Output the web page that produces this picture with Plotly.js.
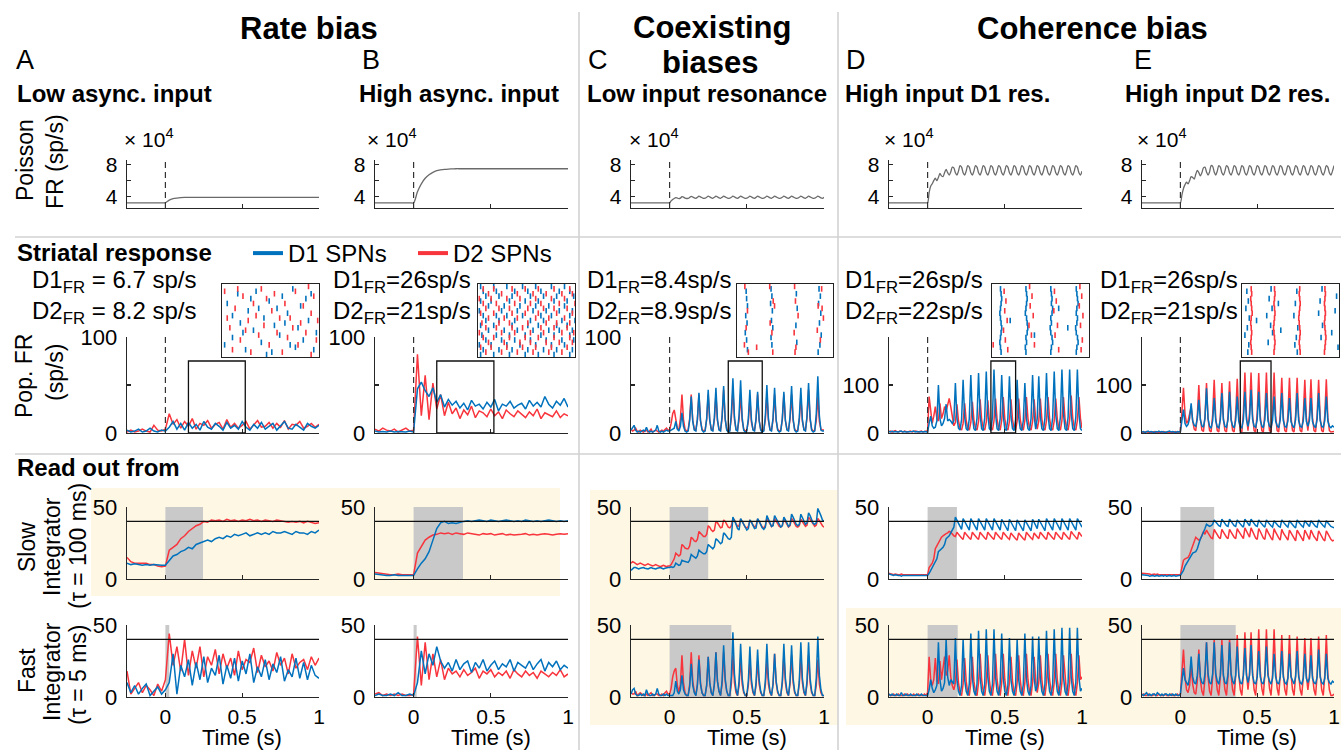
<!DOCTYPE html>
<html><head><meta charset="utf-8">
<script src="https://cdn.plot.ly/plotly-3.0.1.min.js"></script>
<style>html,body{margin:0;padding:0;background:#fff;}#chart{width:1341px;height:750px;}</style>
</head><body><div id="chart"></div>
<script>
// ================= DATA =================
const T_START = -0.25;          // s, first sample of every trace
const DT_AB = 0.025;            // s, sampling of columns A and B
const DT_CDE = 0.01;            // s, sampling of columns C, D and E

// ---- Poisson input firing rate (x 10^4 sp/s) ----
const poissonA = [3.2,3.2,3.2,3.2,3.2,3.2,3.2,3.2,3.2,3.2,3.2, 3.55,3.72,3.8,3.85,3.88,3.89,
  3.9,3.9,3.9,3.9,3.9,3.9,3.9,3.9,3.9,3.9, 3.9,3.9,3.9,3.9,3.9,3.9,3.9,3.9,3.9,3.9, 3.9,3.9,3.9,3.9,3.9,3.9,3.9,3.9,3.9,3.9, 3.9,3.9,3.9,3.9];
const poissonB = [3.2,3.2,3.2,3.2,3.2,3.2,3.2,3.2,3.2,3.2,3.2, 4.6,5.6,6.3,6.75,7.05,7.25,7.35,7.42,7.46,7.48,
  7.5,7.5,7.5,7.5,7.5,7.5,7.5,7.5,7.5,7.5, 7.5,7.5,7.5,7.5,7.5,7.5,7.5,7.5,7.5,7.5, 7.5,7.5,7.5,7.5,7.5,7.5,7.5,7.5,7.5,7.5];
const poissonC = [3.2,3.2,3.2,3.2,3.2,3.2,3.2,3.2,3.2,3.2,3.2,3.2,3.2,3.2,3.2,3.2,3.2,3.2,3.2,3.2,3.2,3.2,3.2,3.2,3.2,3.2,
  3.45,3.62,3.75,3.85,3.8,3.74,3.8,3.97,3.92,3.8, 3.75,3.76,3.88,4.02,3.94,3.82,3.77,3.9,4.04,3.95,
  3.84,3.77,3.78,3.9,4.04,3.95,3.82,3.77,3.9,4.04, 3.95,3.82,3.77,3.9,4.04,3.95,3.84,3.77,3.78,3.9,
  4.04,3.95,3.82,3.77,3.9,4.04,3.95,3.84,3.77,3.78, 3.9,4.04,3.95,3.82,3.77,3.9,4.04,3.95,3.84,3.77,
  3.78,3.9,4.04,3.95,3.82,3.77,3.9,4.04,3.95,3.84, 3.77,3.78,3.9,4.04,3.95,3.82,3.77,3.9,4.04,3.95,
  3.84,3.77,3.78,3.9,4.04,3.95,3.82,3.77,3.9,4.04, 3.95,3.84,3.77,3.78,3.9,4.04,3.95,3.82,3.77,3.9];
const poissonD = [3.2,3.2,3.2,3.2,3.2,3.2,3.2,3.2,3.2,3.2,3.2,3.2,3.2,3.2,3.2,3.2,3.2,3.2,3.2,3.2,3.2,3.2,3.2,3.2,3.2,3.2,
  4.5,5.3,5.6,6.0,6.3,6.0,6.4,6.9,6.6,6.5, 7.0,7.4,7.0,6.7,7.1,7.7,7.6,7.0,6.7,7.2, 7.9,7.7,7.0,6.7,
  7.2,7.9,7.7,7.0,6.7, 7.2,7.9,7.7,7.0,6.7, 7.2,7.9,7.7,7.0,6.7, 7.2,7.9,7.7,7.0,6.7, 7.2,7.9,7.7,7.0,6.7,
  7.2,7.9,7.7,7.0,6.7, 7.2,7.9,7.7,7.0,6.7, 7.2,7.9,7.7,7.0,6.7, 7.2,7.9,7.7,7.0,6.7, 7.2,7.9,7.7,7.0,6.7,
  7.2,7.9,7.7,7.0,6.7, 7.2,7.9,7.7,7.0,6.7, 7.2,7.9,7.7,7.0,6.7, 7.2,7.9,7.7,7.0,6.7, 7.2,7.9,7.7,7.0,6.7, 7.2];
const poissonE = [3.2,3.2,3.2,3.2,3.2,3.2,3.2,3.2,3.2,3.2,3.2,3.2,3.2,3.2,3.2,3.2,3.2,3.2,3.2,3.2,3.2,3.2,3.2,3.2,3.2,3.2,
  4.2,5.0,5.5,5.8,5.6,6.0,6.5,6.4,6.2,6.8, 7.3,7.0,6.6,7.0,7.6,7.7,7.1,6.7,7.1,7.9, 7.8,7.1,6.7,7.2,
  7.9,7.7,7.0,6.7,7.2, 7.9,7.7,7.0,6.7,7.2, 7.9,7.7,7.0,6.7,7.2, 7.9,7.7,7.0,6.7,7.2, 7.9,7.7,7.0,6.7,7.2,
  7.9,7.7,7.0,6.7,7.2, 7.9,7.7,7.0,6.7,7.2, 7.9,7.7,7.0,6.7,7.2, 7.9,7.7,7.0,6.7,7.2, 7.9,7.7,7.0,6.7,7.2,
  7.9,7.7,7.0,6.7,7.2, 7.9,7.7,7.0,6.7,7.2, 7.9,7.7,7.0,6.7,7.2, 7.9,7.7,7.0,6.7,7.2, 7.9,7.7,7.0,6.7,7.2, 7.9];

// ---- Population firing rate (sp/s) ----
const popA_D1 = [3,1,2,4,1,2,5,2,1,3,2, 6,12,4,10,3,11,5,9,3,12, 6,4,10,7,3,11,5,8,4,12, 6,3,9,5,11,4,7,10,3,8, 12,5,4,9,6,3,10,7,5,8];
const popA_D2 = [1,3,1,2,4,2,1,8,3,2,4, 20,9,14,5,12,7,15,4,10,8, 13,5,9,11,4,14,6,10,5,8, 12,4,9,13,6,7,11,5,10,6, 13,4,9,8,12,5,7,10,6,9];
const popB_D1 = [2,1,1.5,1,2,1,1.5,1,1,2,1, 46,53,44,38,47,32,40,27,35,29, 33,26,31,24,34,28,30,25,32,27, 35,23,30,28,33,26,29,31,25,34, 28,32,27,38,30,26,33,29,36,27];
const popB_D2 = [4,2,5,3,2,4,1,3,5,2,3, 82,18,60,14,52,25,40,18,32,20, 26,15,24,19,28,16,23,21,17,25, 18,22,15,24,20,17,23,19,16,22, 18,25,15,21,19,17,23,16,20,18];
const popC_D1 = [3,5,8,3,1,2,1,2,3,2,6,2,1,2,1,2,3,8,2,1,2,1,2,3,2,
  2,3,4,5,12,4,2,7,21,7, 2,1,2,13,38,12,3,2,14,42, 13,3,1,2,15,45,14,3,2,16, 47,14,3,2,17,49,15,3,1,2,
  20,57,17,3,2,19,55,16,3,1, 2,15,45,14,3,2,15,43,13,3, 1,2,17,50,15,3,2,16,47,14, 3,1,2,15,43,13,3,2,17,49,
  15,3,1,2,16,47,14,3,2,18, 52,16,3,1,2,20,59,18,3,2,2];
const popC_D2 = [4,2,3,5,2,1,3,2,1,2,3,1,2,4,1,2,3,2,1,2,3,2,4,5,3,
  3,10,20,24,15,5,3,15,40,14, 4,2,3,15,40,13,4,3,14,40, 13,4,2,3,14,40,13,4,3,14, 40,13,4,3,16,45,14,4,2,3,
  16,45,14,4,3,14,40,13,4,2, 3,12,35,11,4,3,14,40,13,4, 2,3,14,40,13,4,3,14,40,13, 4,2,3,14,40,13,4,3,14,40,
  13,4,2,3,13,38,12,4,3,16, 45,14,4,2,3,13,38,12,4,3,3];
const popD_D1 = [3,2,4,2,3,2,2,3,4,2,3,2,2,3,2,3,4,2,3,2,2,3,2,3,2,
  2,20,35,15,10,12,25,100,30,15, 20,30,60,25,28,25,20,26,104,31, 10,6,28,111,33,9,5,30,121,36, 9,5,31,125,38,9,5,32,128,38,
  9,5,33,132,40,9,5,30,121,36, 9,5,30,118,35,9,5,28,111,33, 9,5,26,104,31,9,5,30,121,36, 8,30,118,35,9,5,31,125,38,9,
  5,32,128,38,9,5,33,132,40,9, 5,33,132,40,9,5,33,132,40,9,5];
const popD_D2 = [3,4,2,3,5,3,2,4,3,2,4,3,2,3,4,2,3,4,3,2,3,4,2,3,3,
  5,76,40,20,35,55,30,25,62,30, 40,55,45,60,72,55,30,15,22,60, 25,10,6,20,62,26,10,6,22,65, 27,10,6,24,70,28,10,6,23,68,
  27,10,6,25,72,29,10,6,26,75, 30,10,6,24,70,28,10,6,25,72, 29,10,6,26,75,30,10,6,24,70, 28,8,25,72,29,10,6,26,75,30,
  10,6,25,72,29,10,6,26,75,30, 10,6,27,78,31,10,6,26,75,30,10];
const popE_D1 = [2,3,1,2,4,2,3,2,1,3,2,4,2,3,2,1,2,3,4,2,3,2,1,3,2,
  3,25,49,20,14,18,30,62,25,16, 14,30,69,28,15,12,30,93,30,14, 10,25,73,25,13,11,28,83,27,14, 12,28,86,27,15,11,26,76,25,13,
  11,28,86,28,14,30,90,28,14,12, 28,86,27,15,11,28,83,26,14,12, 26,76,25,15,11,28,83,26,14,12, 25,73,24,15,11,28,83,26,14,12,
  25,73,24,14,26,73,24,15,11,28, 83,26,14,12,26,76,25,14,11,15,12];
const popE_D2 = [2,1,2,3,1,2,1,2,3,1,2,1,2,1,3,2,1,2,1,2,1,2,3,1,2,
  3,45,94,40,20,25,40,55,25,8, 5,35,100,30,6,3,35,104,30,5, 2,38,111,32,5,2,35,104,30,5, 2,36,108,31,5,2,38,113,33,5,
  2,42,126,36,5,42,126,36,5,2, 42,125,36,5,2,42,126,36,5,2, 42,126,36,5,2,38,115,33,5,2, 38,115,33,5,2,38,115,33,5,2,
  37,111,32,5,37,112,32,5,2,37, 111,32,5,2,37,112,32,5,2,2,3];

// ---- Slow integrator read-out (tau = 100 ms) ----
const slowA_D1 = [11,10,10.5,10,9.5,10,9.5,10,9.5,9.5,9.5, 13,16,17,19,20,22,21,24,25,26, 27,26,28,29,28,30,29,31,30,31, 32,30,31,32,31,32,31,33,32,32, 33,32,31,33,32,32,31,33,32,34];
const slowA_D2 = [15,12,11,11,10.5,11,10,10,9,8.5,9, 20,22,24,28,30,33,35,37,38,40, 39.5,41,40.5,41,40,41.5,40.5,41,40,41, 40.5,41.5,40.5,41,40,41,40.5,40,41,40.5, 40,39.5,40,39.5,40,39,40,39.5,38.5,39];
const slowB_D1 = [3.5,3,3,2.5,2.5,3,2.5,2.5,3,2.5,2.5, 7,11,14,19,27,35,39,40,38.5,39, 38.5,39.5,40,40.5,40,40.5,41,40.5,40,41, 40.5,40,40.5,41,40.5,40,40.5,40,41,40.5, 40,40.5,40,40.5,41,40.5,40,40.5,40,40.5];
const slowB_D2 = [4.5,4,3.5,3.5,3,3,3.5,3,3,3.5,3, 18,23,27,29,30.5,31,32,31.5,32,31, 32,31.5,31,32,31.5,31,30.5,31.5,31,31.5, 30.5,31,31.5,30.5,31,30.5,30.5,31,31.5,30.5, 31,30.5,31,31.5,31,30.5,31,31.5,31,31.5];
const slowC_D1 = [6,7,8,8,7.5,7,7.5,8,8,7.5,7,7,7.5,8,7.5,7,7,7.5,8,8,7.5,7,7.5,8,8,
  8,8.5,8,8.5,11,10,9.5,10,13,12.5, 12,11.5,11.5,13,17,16,15,14.5,16,20, 19,18,17.5,17.5,19,24,23,22,21,22.5, 28,27,25.5,24.5,25.5,32,31,29,28,27.5,
  29,43,41,38,35,34,42,40,37,35, 34,35,41,39.5,37,35,35.5,42,40,37.5, 35.5,34.5,36,44,42,39,36.5,37,44,42, 39,37,36,37,43,41,38.5,36.5,37.5,45,
  43,40,38,37,38,45,43,40,38,39, 46,44,41,38.5,38,39,49,47,44,41,40];
const slowC_D2 = [11,12,11.5,10.5,10,10.5,11,10.5,10,9.5,10,10.5,10,9.5,9,9.5,10,9.5,9,8.5,9,9.5,9,8.5,9,
  9,10,12,14,18,17,16,17,24,23, 21.5,21,21,23,29,28,26.5,26,27.5,33, 32,30.5,29.5,29.5,31,37,36,34,33,34, 40,39,37,35.5,36,41,40,38,36,35.5,
  37,42,41,38.5,36.5,37,41.5,40,38,36, 35.5,36.5,40.5,39.5,37.5,36,37,41.5,40,38, 36,35.5,37,42,40.5,38.5,36.5,37.5,42,40.5, 38.5,36.5,36,37,41.5,40,38,36,37,42,
  40.5,38.5,36.5,36,37,41.5,40,38,36.5,37.5, 43,41.5,39.5,37.5,36.5,37.5,42,40.5,38.5,37,36];
const slowD_D1 = [3.5,3,3,2.5,3,2.5,2.5,2.5,2,2.5,2.5,2.5,2,2.5,2.5,2,2.5,2.5,2,2,2.5,2,2,2.5,2.5,
  2.5,4,6,8.5,10,12,14,19,20,21, 22,24,28,29,30,32,34,36,43,41, 38.5,36,34.5,42,40,37.5,35.5,34,42,40, 37.5,35.5,34,42,40,37.5,35.5,34,42,40,
  37.5,35.5,34,42,40,37.5,35.5,34,41.5,39.5, 37,35,33.5,41.5,39.5,37,35,33.5,41,39, 37,35,33.5,41,39,37,35,33.5,41.5,39.5, 37,35,41.5,39.5,37,35,33.5,42,40,37.5,
  35.5,34,42,40,37.5,35.5,34,42,40,37.5, 35.5,34,42,40,37.5,35.5,34,42,40,37.5,36];
const slowD_D2 = [4,3.5,3.5,3,3.5,3,3,3,3.5,3,3,3,2.5,3,3,2.5,3,3,2.5,3,2.5,2.5,3,2.5,2.5,
  3,8,9.5,11,14,21,23,25,28,29, 30,31,31.5,32,33,32.5,31,30,29.5,32.5, 31,29.5,28.5,27.5,32.5,31,29.5,28.5,27.5,32.5, 31,29.5,28.5,27.5,32.5,31,29.5,28.5,27.5,32.5,
  31,29.5,28.5,27.5,32.5,31,29.5,28.5,27.5,32.5, 31,29.5,28.5,27.5,32,30.5,29,28,27,32, 30.5,29,28,27,32.5,31,29.5,28.5,27.5,32, 30.5,29,28,32.5,31,29.5,28.5,27.5,32.5,31,
  29.5,28.5,27.5,32.5,31,29.5,28.5,27.5,32.5,31, 29.5,28.5,27.5,33,31.5,30,28.5,27.5,32.5,31,29.5];
const slowE_D1 = [3,3,2.5,2.5,2.5,2,2.5,2.5,2,2.5,2.5,2,2.5,2.5,2,2.5,2,2.5,2.5,2,2.5,2.5,2,2.5,2.5,
  2.5,4,6,9,11,13,15,17,18,18.5, 19,21,25,28,30,32,35,38,37,36.5, 37,38,41,39.5,38,37,36.5,41.5,40,38.5, 37,36.5,41.5,40,38.5,37,36.5,41,39.5,38,
  37,36,41.5,40,38,37,41.5,40,38.5,37, 36.5,41,39.5,38,37,36,41,39.5,38,37, 36,40.5,39,37.5,36.5,36,41,39.5,38,37, 36,40.5,39,37.5,36.5,35.5,41,39.5,38,37,
  36,40.5,39,37.5,36.5,40.5,39,37.5,36.5,36, 41,39.5,38,37,36,40.5,39,37.5,36.5,36,35.5];
const slowE_D2 = [4,4,3.5,3.5,3.5,3.5,3,3.5,3.5,3,3.5,3,3,3.5,3,3,3,3,3.5,3,3,3,3,3,3,
  3,8,13,14,14.5,15,17,20,23,26, 29,28,27,27.5,30,33,31,34,32,30, 28.5,28,34.5,32.5,30.5,29,28,34.5,32.5,30.5, 29,28,34.5,32.5,30.5,29,28,35,33,31,
  29,28,35.5,33,31,29,35.5,33,30.5,28.5, 27.5,35,33,30.5,28.5,27.5,35,32.5,30,28.5, 27,35,32.5,30,28.5,27,34.5,32,30,28, 27,34,32,29.5,28,26.5,34,32,29.5,28,
  26.5,34,31.5,29.5,27.5,34,31.5,29.5,28,26.5, 33.5,31.5,29,27.5,26.5,33.5,31.5,29,27.5,26.5,27];

// ---- Fast integrator read-out (tau = 5 ms) ----
const fastA_D1 = [10,3,8,2,6,9,1,4,7,2,5, 10,30,2,22,14,26,8,24,12,28, 10,20,15,29,9,22,13,27,11,25, 16,30,10,21,14,26,12,23,17,28, 11,19,14,27,13,24,12,22,15,13];
const fastA_D2 = [18,2,6,10,3,8,5,1,9,4,12, 44,22,35,18,40,15,32,20,35,14, 28,22,33,16,30,20,27,15,32,19, 26,24,34,17,29,21,25,18,31,22, 27,16,30,20,24,26,19,28,22,27];
const fastB_D1 = [1,2,1,1,2,1,3,1,1,2,1, 10,32,16,30,22,35,25,20,24,18, 26,19,23,25,17,24,20,26,18,22, 25,19,23,21,26,18,24,22,20,25, 19,23,26,18,24,21,25,19,22,20];
const fastB_D2 = [2,3,1,2,1,2,1,2,1,1,2, 42,8,38,12,30,14,26,12,20,16, 18,14,19,15,17,20,13,18,16,19, 14,17,15,18,13,19,16,14,18,15, 17,13,18,16,14,17,15,19,14,16];
const fastC_D1 = [2,5,6,2,1,1,2,1,2,1,5,2,1,1,2,1,2,6,2,1,1,2,1,2,1,
  1,1,1,3,11,4,2,5,15,5, 2,1,1,7,23,8,3,1,8,26, 9,3,1,1,8,28,10,3,1,9, 31,11,4,1,11,36,13,4,1,1,
  14,45,16,5,1,11,37,13,4,1, 1,11,35,12,4,1,10,33,12,4, 1,1,11,37,13,4,1,9,30,11, 4,1,1,11,37,13,4,1,11,36,
  13,4,1,1,11,38,13,4,1,11, 38,13,4,1,1,13,42,15,5,1,1];
const fastC_D2 = [3,2,2,4,1,2,3,2,1,1,2,1,2,3,1,1,2,2,1,1,2,1,3,4,2,
  2,6,14,18,20,8,3,9,29,10, 3,1,1,9,31,11,4,1,9,29, 10,3,1,1,8,28,10,3,1,9, 31,11,4,1,9,31,11,4,1,1,
  9,29,10,3,1,8,27,9,3,1, 1,8,25,9,3,1,8,25,9,3, 1,1,8,25,9,3,1,9,30,10, 3,1,1,9,29,10,3,1,9,29,
  10,3,1,1,9,29,10,3,1,9, 29,10,3,1,1,8,26,9,3,1,1];
const fastD_D1 = [2,1,2,1,1,2,1,1,3,1,1,2,1,1,2,1,1,1,2,1,1,2,1,1,1,
  1,5,12,6,3,5,8,38,12,4, 6,10,40,14,8,12,10,9,41,12, 4,1,8,40,12,4,1,9,44,13, 4,1,9,46,14,4,1,9,47,14,
  4,1,9,47,14,4,1,9,44,13, 4,1,8,41,12,4,1,8,40,12, 4,1,9,44,13,4,1,8,42,13, 4,8,42,13,4,1,9,46,14,4,
  1,9,47,14,4,1,10,48,14,4, 1,10,48,14,4,1,10,48,14,4,6];
const fastD_D2 = [2,1,1,2,1,1,2,1,1,1,2,1,2,1,1,1,2,1,1,2,1,1,1,2,1,
  3,28,12,8,12,27,12,9,25,12, 20,28,15,18,29,14,8,5,10,26, 10,3,1,9,27,11,3,1,10,28, 11,3,1,10,30,12,4,1,10,29,
  12,3,1,10,30,12,4,1,10,30, 12,4,1,10,28,11,3,1,10,29, 12,3,1,10,30,12,4,1,10,28, 11,3,10,29,12,3,1,10,30,12,
  4,1,10,30,12,4,1,10,29,12, 3,1,10,30,12,4,1,10,29,12,14];
const fastE_D1 = [2,1,2,3,1,2,1,2,2,1,3,2,1,2,1,2,2,1,2,1,2,1,2,1,1,
  2,10,20,12,10,8,14,28,14,10, 9,15,30,14,10,9,16,38,16,10, 9,16,38,16,11,9,15,36,15,10, 9,16,38,16,11,9,15,35,15,10,
  9,15,34,15,10,15,36,15,10,9, 14,32,14,10,9,15,35,15,11,9, 13,30,14,10,9,14,32,14,10,9, 13,30,14,11,9,14,32,14,10,9,
  13,30,13,10,13,29,13,10,9,14, 33,14,10,9,13,30,13,10,9,11,10];
const fastE_D2 = [1,2,1,1,2,1,1,1,2,1,1,2,1,1,1,2,1,1,1,2,1,1,1,2,1,
  2,15,33,14,5,3,8,22,9,3, 2,11,33,12,4,1,13,38,14,4, 1,14,40,15,5,1,14,40,15,5, 1,14,40,15,5,1,15,43,16,5,
  1,16,45,17,5,16,45,17,5,1, 16,47,18,6,1,16,47,18,6,1, 16,47,18,6,1,15,43,16,5,1, 15,43,16,5,1,15,42,16,5,1,
  14,41,15,5,14,41,15,5,1,15, 42,16,5,1,15,43,16,5,1,1,2];

// ---- Analysis windows / annotations data ----
const colLetters = ['A','B','C','D','E'];
const colSubtitles = ['Low async. input','High async. input','Low input resonance','High input D1 res.','High input D2 res.'];
const d1FR = ['D1<sub>FR</sub> = 6.7 sp/s','D1<sub>FR</sub>=26sp/s','D1<sub>FR</sub>=8.4sp/s','D1<sub>FR</sub>=26sp/s','D1<sub>FR</sub>=26sp/s'];
const d2FR = ['D2<sub>FR</sub> = 8.2 sp/s','D2<sub>FR</sub>=21sp/s','D2<sub>FR</sub>=8.9sp/s','D2<sub>FR</sub>=22sp/s','D2<sub>FR</sub>=21sp/s'];
const popYMax = [100,100,100,200,200];
const rasterWindow = [[0.15,0.52],[0.15,0.52],[0.38,0.60],[0.41,0.57],[0.39,0.59]];
const rasterBoxTop = [75,75,75,150,150];
const slowShadeEnd = [0.245,0.32,0.25,0.19,0.22];
const fastShadeEnd = [0.025,0.02,0.40,0.195,0.36];
const threshold = 40;

// ---- Raster insets: spike time (s) and neuron index ----
const rasterA_D1_t = [0.17,0.19,0.21,0.22,0.24,0.25,0.27,0.28,0.30,0.31,0.33,0.34,0.35,0.37,0.38,0.40,0.41,0.42,0.44,0.45,0.46,0.48,0.49,0.50,0.51,0.19,0.26,0.32,0.36,0.43,0.47,0.23,0.29,0.39,0.16];
const rasterA_D1_n = [22,8,26,14,3,19,11,27,6,16,23,2,13,9,25,18,5,28,12,21,7,15,26,3,10,17,24,1,20,4,24,10,20,14,5];
const rasterA_D2_t = [0.16,0.18,0.19,0.20,0.22,0.23,0.25,0.26,0.27,0.29,0.30,0.31,0.33,0.34,0.35,0.36,0.38,0.39,0.40,0.41,0.43,0.44,0.45,0.46,0.47,0.49,0.49,0.50,0.51,0.515,0.21,0.28,0.32,0.37,0.42,0.48,0.24,0.17];
const rasterA_D2_n = [27,12,3,20,7,25,15,2,22,9,28,13,5,19,26,10,2,22,8,16,27,5,14,21,10,1,18,25,7,15,28,17,24,16,12,29,11,16];
const rasterB_D1 = [
  [1,[0.16,0.21,0.27,0.33,0.38,0.44,0.50]],[3,[0.17,0.23,0.28,0.34,0.40,0.45,0.51]],[5,[0.155,0.20,0.26,0.31,0.37,0.43,0.48]],
  [7,[0.18,0.24,0.29,0.35,0.41,0.47,0.515]],[9,[0.165,0.22,0.27,0.33,0.39,0.44,0.50]],[11,[0.19,0.25,0.30,0.36,0.42,0.46,0.51]],
  [13,[0.16,0.21,0.28,0.34,0.38,0.45,0.49]],[15,[0.18,0.23,0.29,0.35,0.40,0.47,0.52]],[17,[0.17,0.22,0.26,0.32,0.39,0.43,0.50]],
  [19,[0.155,0.24,0.30,0.36,0.41,0.46,0.51]],[21,[0.19,0.25,0.31,0.37,0.42,0.48]],[23,[0.16,0.20,0.27,0.33,0.38,0.44,0.49]],
  [25,[0.18,0.23,0.28,0.35,0.40,0.45,0.515]],[27,[0.17,0.22,0.29,0.34,0.39,0.46,0.50]],[29,[0.16,0.21,0.26,0.32,0.37,0.43,0.48]]];
const rasterB_D2 = [
  [2,[0.18,0.24,0.30,0.36,0.42,0.47]],[4,[0.16,0.20,0.26,0.32,0.37,0.43,0.49]],[6,[0.19,0.25,0.31,0.35,0.41,0.46,0.51]],
  [8,[0.17,0.21,0.27,0.33,0.38,0.44,0.50]],[10,[0.155,0.24,0.29,0.35,0.40,0.47,0.515]],[12,[0.18,0.22,0.28,0.32,0.39,0.44,0.49]],
  [14,[0.165,0.23,0.27,0.34,0.41,0.45,0.50]],[16,[0.19,0.25,0.30,0.37,0.42,0.48]],[18,[0.16,0.21,0.28,0.33,0.38,0.45,0.51]],
  [20,[0.18,0.23,0.27,0.34,0.40,0.44,0.49]],[22,[0.17,0.22,0.29,0.35,0.39,0.46,0.52]],[24,[0.155,0.20,0.26,0.31,0.37,0.43,0.48]],
  [26,[0.19,0.24,0.30,0.36,0.41,0.47,0.51]],[28,[0.17,0.21,0.28,0.33,0.38,0.44,0.50]]];
const rasterC_D1_t = [0.401,0.402,0.404,0.400,0.403,0.399,0.402,0.404, 0.458,0.460,0.457,0.461,0.459,0.462,0.458,0.460, 0.516,0.518,0.515,0.517, 0.568,0.571,0.567,0.572,0.569,0.573,0.570,0.566];
const rasterC_D1_n = [27,24,21,17,14,10,7,3, 28,25,22,19,15,12,8,5, 26,20,13,6, 28,25,22,18,14,9,5,2];
const rasterC_D2_t = [0.398,0.404,0.401,0.397,0.406,0.425, 0.455,0.463,0.466,0.456,0.460,0.462, 0.512,0.514,0.520,0.511,0.515,0.513, 0.574,0.566,0.575,0.564,0.571,0.578];
const rasterC_D2_n = [29,19,12,5,2,4, 29,23,21,14,10,2, 29,23,17,10,4,2, 28,21,20,11,7,16];
const rasterD_D1_t = [0.424,0.425,0.426,0.425,0.424,0.423,0.424,0.425,0.426,0.425,0.424,0.423,0.424,0.425,
  0.466,0.467,0.468,0.467,0.466,0.465,0.467,0.468,0.469,0.468,0.466,0.467,0.465,0.466,
  0.507,0.508,0.509,0.508,0.510,0.509,0.507,0.508,0.506,0.507,0.509,0.510,0.508,0.507,
  0.549,0.550,0.551,0.552,0.550,0.549,0.551,0.550,0.548,0.549,0.551,0.552,0.550,0.549, 0.440,0.480,0.520,0.535];
const rasterD_D1_n = [28,26,24,22,20,18,16,14,12,10,8,6,4,2, 28,26,24,22,20,18,16,14,12,10,8,6,4,2,
  28,26,24,22,20,18,16,14,12,10,8,6,4,2, 28,26,24,22,20,18,16,14,12,10,8,6,4,2, 15,9,20,12];
const rasterD_D2_t = [0.430,0.433,0.431,0.435,0.429,0.432,0.436,0.412, 0.472,0.476,0.473,0.478,0.471,0.475,0.480, 0.513,0.516,0.512,0.518,0.514,0.520, 0.555,0.558,0.554,0.560,0.556,0.559,0.557];
const rasterD_D2_n = [27,23,19,15,11,7,3,5, 29,25,21,17,13,9,5, 27,23,19,13,9,3, 29,25,21,17,13,7,3];
const rasterE_D1_t = [0.400,0.403,0.398,0.405,0.401,0.396,0.404,0.402,0.420, 0.450,0.446,0.452,0.441,0.449,0.453,0.444,0.465,0.470,
  0.503,0.500,0.497,0.505,0.502,0.499,0.504, 0.555,0.551,0.548,0.556,0.553,0.585,0.582,0.575,0.588];
const rasterE_D1_n = [27,23,20,16,12,9,5,2,15, 28,24,20,17,13,10,6,22,11, 27,22,17,12,8,5,2, 28,23,18,13,8,25,19,10,4];
const rasterE_D2_t = [0.409,0.410,0.408,0.409,0.410,0.411,0.409,0.408,0.409,0.410,0.409,0.408,0.409,0.410,
  0.457,0.458,0.457,0.456,0.457,0.458,0.457,0.456,0.455,0.456,0.457,0.458,0.457,0.456,
  0.509,0.508,0.509,0.510,0.509,0.508,0.507,0.508,0.509,0.510,0.509,0.508,0.509,0.510,
  0.561,0.562,0.561,0.560,0.561,0.562,0.561,0.560,0.561,0.562,0.563,0.562,0.561,0.560];
const rasterE_D2_n = [28,26,24,22,20,18,16,14,12,10,8,6,4,2, 28,26,24,22,20,18,16,14,12,10,8,6,4,2,
  28,26,24,22,20,18,16,14,12,10,8,6,4,2, 28,26,24,22,20,18,16,14,12,10,8,6,4,2];

// ================= FIGURE =================
const FONT = 'Liberation Sans, Arial, Helvetica, sans-serif';
const BLUE = '#0072BD', RED = '#F8343C', PGRAY = '#6a6a6a', AX = '#262626';
const W = 1341, H = 750;
const px = x => x / W, py = y => 1 - y / H;

const colX = [[127,319],[375,568],[631,824],[889,1082],[1142,1334]];
const rowY = [[160,208],[337,433],[507,579],[625,697]];
const insetX = [[222,319],[478,575],[737,833],[992,1089],[1242,1339]];
const insetY = [284,357];

const flatRows = rows => { const t=[], n=[]; rows.forEach(([r,ts]) => ts.forEach(v => { t.push(v); n.push(r); })); return [t,n]; };
const [rBt1, rBn1] = flatRows(rasterB_D1), [rBt2, rBn2] = flatRows(rasterB_D2);

const cols = [
  {dt:DT_AB, pdt:DT_AB, poisson:poissonA, pop:[popA_D1,popA_D2], slow:[slowA_D1,slowA_D2], fast:[fastA_D1,fastA_D2], r1:[rasterA_D1_t,rasterA_D1_n], r2:[rasterA_D2_t,rasterA_D2_n]},
  {dt:DT_AB, pdt:DT_AB, poisson:poissonB, pop:[popB_D1,popB_D2], slow:[slowB_D1,slowB_D2], fast:[fastB_D1,fastB_D2], r1:[rBt1,rBn1], r2:[rBt2,rBn2]},
  {dt:DT_CDE, pdt:DT_CDE, poisson:poissonC, pop:[popC_D1,popC_D2], slow:[slowC_D1,slowC_D2], fast:[fastC_D1,fastC_D2], r1:[rasterC_D1_t,rasterC_D1_n], r2:[rasterC_D2_t,rasterC_D2_n]},
  {dt:DT_CDE, pdt:DT_CDE, poisson:poissonD, pop:[popD_D1,popD_D2], slow:[slowD_D1,slowD_D2], fast:[fastD_D1,fastD_D2], r1:[rasterD_D1_t,rasterD_D1_n], r2:[rasterD_D2_t,rasterD_D2_n]},
  {dt:DT_CDE, pdt:DT_CDE, poisson:poissonE, pop:[popE_D1,popE_D2], slow:[slowE_D1,slowE_D2], fast:[fastE_D1,fastE_D2], r1:[rasterE_D1_t,rasterE_D1_n], r2:[rasterE_D2_t,rasterE_D2_n]}
];

const sfx = k => (k === 1 ? '' : String(k));
const traces = [];
const layout = {
  width: W, height: H, margin: {l:0, r:0, t:0, b:0},
  paper_bgcolor: '#ffffff', plot_bgcolor: 'rgba(0,0,0,0)',
  font: {family: FONT, color: '#000', size: 22},
  showlegend: true,
  legend: {orientation:'h', x: px(248), y: py(231), xanchor:'left', yanchor:'top', bgcolor:'rgba(0,0,0,0)',
           font:{size:24, family:FONT}, entrywidth:120, entrywidthmode:'pixels', itemwidth:30, tracegroupgap:0},
  shapes: [], annotations: []
};

// backgrounds and separators (paper)
const paperRect = (x0,y0,x1,y1,fill) => ({type:'rect', xref:'paper', yref:'paper', x0:px(x0), x1:px(x1), y0:py(y1), y1:py(y0), fillcolor:fill, line:{width:0}, layer:'below'});
const paperLine = (x0,y0,x1,y1) => ({type:'line', xref:'paper', yref:'paper', x0:px(x0), x1:px(x1), y0:py(y0), y1:py(y1), line:{color:'#d2d2d2', width:1.6}, layer:'below'});
const YEL = '#fdf7e4';
layout.shapes.push(paperRect(91,488,560,596,YEL), paperRect(590,490,838,725,YEL), paperRect(846,608,1341,725,YEL));
layout.shapes.push(paperLine(579,12,579,750), paperLine(838,12,838,750), paperLine(15,237,1341,237), paperLine(15,454,1341,454));

function lineTrace(y, dt, k, color, width, shape) {
  return {type:'scatter', mode:'lines', x0:T_START, dx:dt, y:y, xaxis:'x'+sfx(k), yaxis:'y'+sfx(k),
          line:{color:color, width:width, shape:shape||'linear', smoothing:0.8}, showlegend:false, hoverinfo:'skip'};
}

cols.forEach((col, c) => {
  for (let r = 0; r < 4; r++) {
    const k = c*4 + r + 1, s = sfx(k);
    let yr, tv, minorV, tfs = 22;
    if (r === 0) { yr = [2.55, 8.6]; tv = [4,8]; minorV = [6]; tfs = 21; }
    else if (r === 1) { yr = [0, popYMax[c]]; tv = [0,100]; minorV = popYMax[c] === 100 ? [50] : [200]; }
    else { yr = [0, 50]; tv = [0, 50]; minorV = []; }
    layout['xaxis'+s] = {domain:[px(colX[c][0]), px(colX[c][1])], anchor:'y'+s, range:[-0.25, 1],
      showline:true, linecolor:AX, linewidth:1.4, ticks:'inside', ticklen:4, tickwidth:1.2, tickcolor:AX,
      tickmode:'array', tickvals:[0,0.5,1], ticktext:['0','0.5','1'], showticklabels: r === 3, tickfont:{size:21, family:FONT},
      ticklabelstandoff: 0, showgrid:false, zeroline:false, fixedrange:true};
    layout['yaxis'+s] = {domain:[py(rowY[r][1]), py(rowY[r][0])], anchor:'x'+s, range:yr,
      showline:true, linecolor:AX, linewidth:1.3, ticks:'inside', ticklen:4, tickwidth:1.2, tickcolor:AX,
      tickmode:'array', tickvals:tv, tickfont:{size:tfs, family:FONT}, ticklabelstandoff: 4,
      minor: minorV.length ? {tickmode:'array', tickvals:minorV, ticks:'inside', ticklen:4, tickwidth:1.2, tickcolor:AX} : undefined,
      showgrid:false, zeroline:false, fixedrange:true};
  }
  const k1 = c*4+1, k2 = c*4+2, k3 = c*4+3, k4 = c*4+4;
  traces.push(lineTrace(col.poisson, col.pdt, k1, PGRAY, 1.3, 'spline'));
  traces.push(lineTrace(col.pop[1], col.dt, k2, RED, 1.5));
  traces.push(lineTrace(col.pop[0], col.dt, k2, BLUE, 1.5));
  traces.push(lineTrace(col.slow[1], col.dt, k3, RED, 1.5));
  traces.push(lineTrace(col.slow[0], col.dt, k3, BLUE, 1.5));
  traces.push(lineTrace(col.fast[1], col.dt, k4, RED, 1.5));
  traces.push(lineTrace(col.fast[0], col.dt, k4, BLUE, 1.5));
  [k1, k2].forEach(k => layout.shapes.push({type:'line', xref:'x'+sfx(k), yref:'y'+sfx(k)+' domain', x0:0, x1:0, y0:0, y1:1,
    line:{color:'#333', width:1.2, dash:'6px,4px'}}));
  layout.shapes.push({type:'rect', xref:'x'+sfx(k2), yref:'y'+sfx(k2), x0:rasterWindow[c][0], x1:rasterWindow[c][1], y0:0, y1:rasterBoxTop[c],
    line:{color:'#111', width:1.3}, fillcolor:'rgba(0,0,0,0)'});
  [[k3, slowShadeEnd[c]], [k4, fastShadeEnd[c]]].forEach(([k, end]) => {
    layout.shapes.push({type:'rect', xref:'x'+sfx(k), yref:'y'+sfx(k)+' domain', x0:0, x1:end, y0:0, y1:1,
      fillcolor:'#c9c9c9', line:{width:0}, layer:'below'});
    layout.shapes.push({type:'line', xref:'x'+sfx(k)+' domain', yref:'y'+sfx(k), x0:0, x1:1, y0:threshold, y1:threshold,
      line:{color:'#111', width:1.4}});
  });
  const ki = 21 + c, si = String(ki);
  layout['xaxis'+si] = {domain:[px(insetX[c][0]), px(insetX[c][1])], anchor:'y'+si, range:rasterWindow[c],
    showline:true, mirror:true, linecolor:'#222', linewidth:1.4, ticks:'', showticklabels:false, showgrid:false, zeroline:false, fixedrange:true};
  layout['yaxis'+si] = {domain:[py(insetY[1]), py(insetY[0])], anchor:'x'+si, range:[0,30],
    showline:true, mirror:true, linecolor:'#222', linewidth:1.4, ticks:'', showticklabels:false, showgrid:false, zeroline:false, fixedrange:true};
  [[col.r1, BLUE], [col.r2, RED]].forEach(([rd, color]) => traces.push({type:'scatter', mode:'markers', x:rd[0], y:rd[1],
    xaxis:'x'+si, yaxis:'y'+si, marker:{symbol:'line-ns', size:4, line:{width:1.6, color:color}}, showlegend:false, hoverinfo:'skip'}));
});

traces.push({type:'scatter', mode:'lines', x:[null], y:[null], name:'D1 SPNs', line:{color:BLUE, width:4}, xaxis:'x2', yaxis:'y2', showlegend:true, hoverinfo:'skip'});
traces.push({type:'scatter', mode:'lines', x:[null], y:[null], name:'D2 SPNs', line:{color:RED, width:4}, xaxis:'x2', yaxis:'y2', showlegend:true, hoverinfo:'skip'});

const A = layout.annotations;
const ann = (text, x, y, size, o) => Object.assign({text:text, x:px(x), y:py(y), xref:'paper', yref:'paper', showarrow:false,
  xanchor:'left', yanchor:'middle', font:{size:size, family:FONT, color:'#000'}}, o || {});
A.push(ann('<b>Rate bias</b>', 309, 29, 31, {xanchor:'center'}));
A.push(ann('<b>Coexisting</b>', 712, 27, 31, {xanchor:'center'}));
A.push(ann('<b>biases</b>', 710, 62, 31, {xanchor:'center'}));
A.push(ann('<b>Coherence bias</b>', 1092, 29, 31, {xanchor:'center'}));
const letterX = [14, 360, 586, 844, 1132];
const subX = [15, 357, 585, 843, 1123];
const x104 = [122, 365, 627, 882, 1135];
const frX = [30, 331, 585, 843, 1098];
colLetters.forEach((L, c) => {
  A.push(ann(L, letterX[c], 60, 27));
  A.push(ann('<b>' + colSubtitles[c] + '</b>', subX[c], 94, 24));
  A.push(ann('× 10<sup>4</sup>', x104[c], 138, 21));
  A.push(ann(d1FR[c] + '<br>' + d2FR[c], frX[c], 297, 24, {align:'left'}));
  A.push({text:'Time (s)', x:0.5, xref:'x'+sfx(c*4+4), y:py(737), yref:'paper', showarrow:false, xanchor:'center', yanchor:'middle',
          borderpad:0, font:{size:22, family:FONT, color:'#000'}});
});
A.push(ann('<b>Striatal response</b>', 15, 252, 24));
A.push(ann('<b>Read out from</b>', 15, 467, 24));
const rot = (text, x, y) => ann(text, x, y, 23, {xanchor:'center', textangle:-90});
A.push(rot('Poisson', 25, 160), rot('FR (sp/s)', 55, 162));
A.push(rot('Pop. FR', 24, 376), rot('(sp/s)', 55, 372));
A.push(rot('Slow', 27, 547), rot('Integrator', 52, 547), rot('(τ = 100 ms)', 78, 546));
A.push(rot('Fast', 27, 671), rot('Integrator', 52, 672), rot('(τ = 5 ms)', 78, 675));

Plotly.newPlot('chart', traces, layout, {staticPlot:true, displayModeBar:false});
</script></body></html>
